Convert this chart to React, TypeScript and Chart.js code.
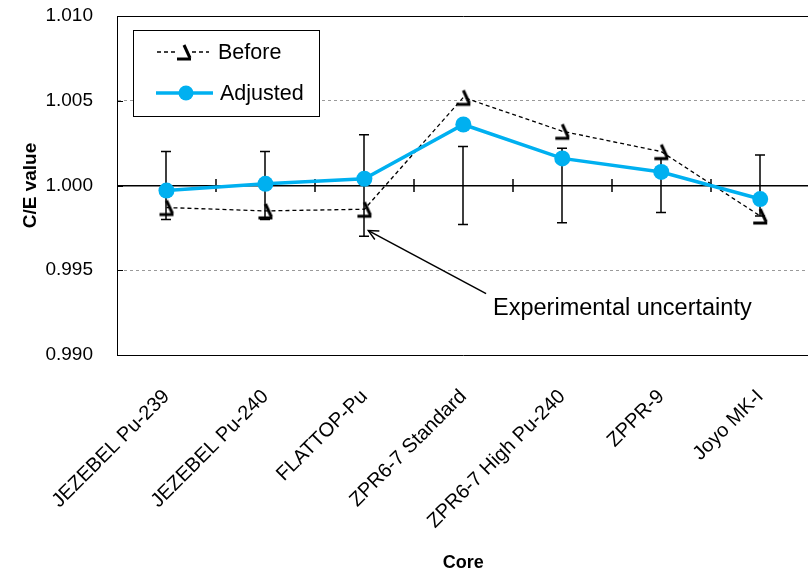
import React, { useEffect, useRef } from "react";
import { Chart, registerables } from "chart.js";

Chart.register(...registerables);

const categories = [
  "JEZEBEL Pu-239",
  "JEZEBEL Pu-240",
  "FLATTOP-Pu",
  "ZPR6-7 Standard",
  "ZPR6-7 High Pu-240",
  "ZPPR-9",
  "Joyo MK-I",
];
const beforeValues = [0.9987, 0.9985, 0.9986, 1.0052, 1.0032, 1.002, 0.9982];
const adjustedValues = [0.9997, 1.0001, 1.0004, 1.0036, 1.0016, 1.0008, 0.9992];
const uncertainties = [0.002, 0.002, 0.003, 0.0023, 0.0022, 0.0016, 0.0018];
const yTicks = [0.99, 0.995, 1.0, 1.005, 1.01];
const seriesNames = ["Before", "Adjusted"];
const annotationText = "Experimental uncertainty";
const arrowTip = { x: 2.04, y: 0.99734 };
const arrowTail = { x: 3.23, y: 0.99362 };
const annotationAnchor = { x: 3.3, y: 0.99276 };

const BLUE = "#00B0F0";
const FONT = "'Liberation Sans', Arial, sans-serif";

function makeBeforeGlyph(): HTMLCanvasElement {
  const c = document.createElement("canvas");
  c.width = 20;
  c.height = 20;
  const g = c.getContext("2d")!;
  g.strokeStyle = "#000";
  g.lineWidth = 3;
  g.lineCap = "butt";
  g.beginPath();
  g.moveTo(10, 3);
  g.lineTo(16, 16);
  g.stroke();
  g.beginPath();
  g.moveTo(3, 17);
  g.lineTo(17, 17);
  g.stroke();
  return c;
}

export default function App() {
  const ref = useRef<HTMLCanvasElement | null>(null);

  useEffect(() => {
    if (!ref.current) return;
    const glyph = makeBeforeGlyph();
    const isVal = (a: number, b: number) => Math.abs(a - b) < 1e-9;

    const overlay = {
      id: "overlay",
      beforeDatasetsDraw(chart: any) {
        const { ctx, chartArea, scales } = chart;
        const x = scales.x;
        const y = scales.y;
        ctx.save();
        ctx.strokeStyle = "#000";
        // top border
        ctx.lineWidth = 1;
        const yt = Math.round(y.getPixelForValue(yTicks[yTicks.length - 1])) + 0.5;
        ctx.beginPath();
        ctx.moveTo(chartArea.left, yt);
        ctx.lineTo(chartArea.right, yt);
        ctx.stroke();
        // inner y ticks
        yTicks.slice(1, -1).forEach((v) => {
          const py = Math.round(y.getPixelForValue(v)) + 0.5;
          ctx.beginPath();
          ctx.moveTo(chartArea.left, py);
          ctx.lineTo(chartArea.left + 6, py);
          ctx.stroke();
        });
        // crossing ticks on 1.000 line
        const y1 = y.getPixelForValue(1);
        ctx.lineWidth = 1.5;
        for (let i = 0; i < categories.length - 1; i++) {
          const px = Math.round(x.getPixelForValue(i + 0.5));
          ctx.beginPath();
          ctx.moveTo(px, y1 - 6.5);
          ctx.lineTo(px, y1 + 6.5);
          ctx.stroke();
        }
        // error bars around 1.000
        ctx.lineWidth = 1.5;
        categories.forEach((_, i) => {
          const px = Math.round(x.getPixelForValue(i));
          const top = y.getPixelForValue(1 + uncertainties[i]);
          const bot = y.getPixelForValue(1 - uncertainties[i]);
          ctx.beginPath();
          ctx.moveTo(px, top);
          ctx.lineTo(px, bot);
          ctx.moveTo(px - 5, top);
          ctx.lineTo(px + 5, top);
          ctx.moveTo(px - 5, bot);
          ctx.lineTo(px + 5, bot);
          ctx.stroke();
        });
        ctx.restore();
      },
      afterDraw(chart: any) {
        const { ctx, scales } = chart;
        const x = scales.x;
        const y = scales.y;
        ctx.save();
        // legend
        const lx = 133.5, ly = 30.5, lw = 186, lh = 86;
        ctx.fillStyle = "#fff";
        ctx.fillRect(lx, ly, lw, lh);
        ctx.strokeStyle = "#000";
        ctx.lineWidth = 1;
        ctx.strokeRect(lx, ly, lw, lh);
        // Before item
        ctx.setLineDash([4, 3]);
        ctx.lineWidth = 1.3;
        ctx.beginPath();
        ctx.moveTo(157, 52);
        ctx.lineTo(209, 52);
        ctx.stroke();
        ctx.setLineDash([]);
        ctx.fillStyle = "#fff";
        ctx.fillRect(176, 44, 16, 17);
        ctx.drawImage(glyph, 184 - 10, 52 - 10);
        // Adjusted item
        ctx.strokeStyle = BLUE;
        ctx.lineWidth = 3.5;
        ctx.beginPath();
        ctx.moveTo(156, 93);
        ctx.lineTo(213, 93);
        ctx.stroke();
        ctx.fillStyle = BLUE;
        ctx.beginPath();
        ctx.arc(186, 93, 7.5, 0, Math.PI * 2);
        ctx.fill();
        ctx.fillStyle = "#000";
        ctx.font = `21.5px ${FONT}`;
        ctx.textAlign = "left";
        ctx.textBaseline = "middle";
        ctx.fillText(seriesNames[0], 218, 53);
        ctx.fillText(seriesNames[1], 220, 94);

        // annotation arrow
        const tx = x.getPixelForValue(arrowTip.x);
        const ty = y.getPixelForValue(arrowTip.y);
        const sx = x.getPixelForValue(arrowTail.x);
        const sy = y.getPixelForValue(arrowTail.y);
        ctx.strokeStyle = "#000";
        ctx.lineWidth = 1.5;
        ctx.beginPath();
        ctx.moveTo(sx, sy);
        ctx.lineTo(tx, ty);
        ctx.stroke();
        const ang = Math.atan2(ty - sy, tx - sx);
        const hl = 11, ha = 0.45;
        ctx.beginPath();
        ctx.moveTo(tx - hl * Math.cos(ang - ha), ty - hl * Math.sin(ang - ha));
        ctx.lineTo(tx, ty);
        ctx.lineTo(tx - hl * Math.cos(ang + ha), ty - hl * Math.sin(ang + ha));
        ctx.stroke();
        ctx.font = `23.5px ${FONT}`;
        ctx.fillText(
          annotationText,
          x.getPixelForValue(annotationAnchor.x),
          y.getPixelForValue(annotationAnchor.y)
        );
        ctx.restore();
      },
    };

    const chart = new Chart(ref.current, {
      type: "line",
      data: {
        labels: categories,
        datasets: [
          {
            label: seriesNames[1],
            data: adjustedValues,
            borderColor: BLUE,
            backgroundColor: BLUE,
            borderWidth: 3.5,
            pointRadius: 8,
            pointBackgroundColor: BLUE,
            pointBorderWidth: 0,
            pointStyle: "circle",
            tension: 0,
          },
          {
            label: seriesNames[0],
            data: beforeValues,
            borderColor: "#000",
            borderWidth: 1.3,
            borderDash: [4, 3],
            pointStyle: glyph as any,
            pointRadius: 10,
            tension: 0,
          },
        ],
      },
      options: {
        responsive: false,
        animation: false,
        events: [],
        layout: { padding: { left: 15, top: 16, right: 0, bottom: 0 } },
        plugins: { legend: { display: false }, tooltip: { enabled: false } },
        scales: {
          x: {
            type: "category",
            offset: true,
            grid: { display: false },
            border: { display: true, color: "#000", width: 1 },
            ticks: {
              autoSkip: false,
              maxRotation: 45,
              minRotation: 45,
              padding: 22,
              color: "#000",
              font: { family: FONT, size: 20 },
            },
            title: {
              display: true,
              text: "Core",
              color: "#000",
              font: { family: FONT, size: 18, weight: "bold" },
              padding: { top: 0, bottom: -1 },
            },
            afterFit(s: any) {
              s.height = 218;
              s.paddingLeft = 0;
              s.paddingRight = 0;
            },
          },
          y: {
            min: 0.99,
            max: 1.01,
            afterBuildTicks(s: any) {
              s.ticks = yTicks.map((v) => ({ value: v }));
            },
            grid: {
              drawTicks: false,
              color: (c: any) => {
                const v = c.tick ? c.tick.value : null;
                if (v == null) return "rgba(0,0,0,0)";
                if (isVal(v, 1)) return "#000";
                if (isVal(v, yTicks[0]) || isVal(v, yTicks[yTicks.length - 1])) return "rgba(0,0,0,0)";
                return "#9a9a9a";
              },
              lineWidth: (c: any) => (c.tick && isVal(c.tick.value, 1) ? 1.5 : 1),
            },
            border: {
              display: true,
              color: "#000",
              width: 1,
              dash: (c: any) => (c.tick && !isVal(c.tick.value, 1) ? [3, 3] : []),
            },
            ticks: {
              padding: 24,
              color: "#000",
              font: { family: FONT, size: 19 },
              callback: (v: any) => Number(v).toFixed(3),
            },
            title: {
              display: true,
              text: "C/E value",
              color: "#000",
              font: { family: FONT, size: 19, weight: "bold" },
              padding: { top: 4, bottom: 0 },
            },
            afterFit(s: any) {
              s.width = 102;
              s.paddingTop = 0;
              s.paddingBottom = 0;
            },
          },
        },
      },
      plugins: [overlay],
    });
    return () => chart.destroy();
  }, []);

  return (
    <div
      style={{
        position: "fixed",
        left: 0,
        top: 0,
        width: 808,
        height: 573,
        overflow: "hidden",
        background: "#fff",
      }}
    >
      <canvas ref={ref} width={821} height={573} style={{ display: "block" }} />
    </div>
  );
}
